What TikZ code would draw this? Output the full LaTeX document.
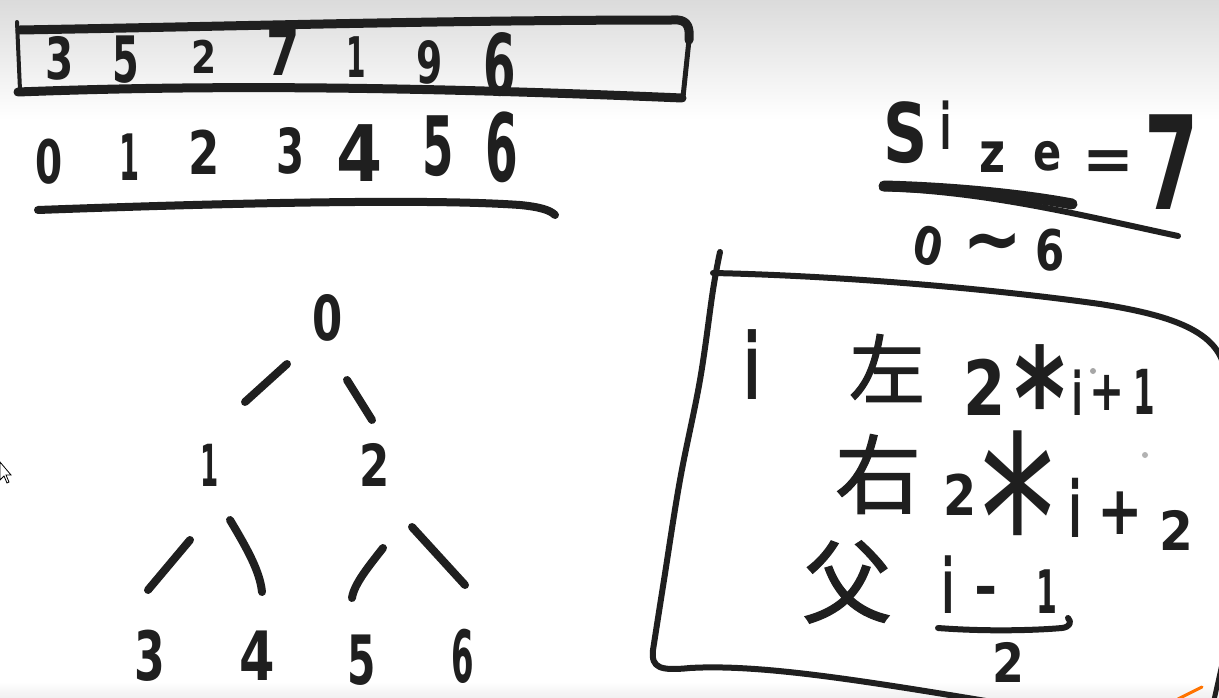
\documentclass[tikz,border=0pt]{standalone}
\usepackage{fontspec}
\setmainfont{DejaVu Sans}
\newfontfamily\cjkfont[FakeBold=1.5]{Noto Sans CJK SC}
\usetikzlibrary{calc}
\begin{document}
\begin{tikzpicture}[x=1pt,y=-1pt,
  ink/.style={line width=#1, line cap=round, line join=round, draw=black!88},
  ink/.default=8pt,
  hw/.style={inner sep=0pt, text=black!88, font=\bfseries\fontsize{#1}{#1}\selectfont},
  hr/.style={inner sep=0pt, text=black!88, font=\fontsize{#1}{#1}\selectfont},
  hz/.style={inner sep=0pt, text=black!88, font=\cjkfont\fontsize{#1}{#1}\selectfont},
  edge/.style={ink=8pt}]
\useasboundingbox (0,0) rectangle (1219,698);
\fill[white] (0,0) rectangle (1219,698);
\shade[top color=black!14, bottom color=white] (0,0) rectangle (1219,120);
\shade[top color=white, bottom color=black!6] (0,682) rectangle (1219,698);
\clip (0,0) rectangle (1219,698);

% ---------- array box ----------
\draw[ink=4pt] (17,22) -- (20,90);
\draw[ink=9pt] (20,30) .. controls (250,26) and (450,20) .. (678,20) .. controls (688,21) and (690,28) .. (689,40);
\draw[ink=5pt] (689,40) -- (683,97);
\draw[ink=9pt] (18,92) .. controls (200,85) and (400,86) .. (682,98);

\node[hw=58, xscale=.7] (a0) at (60,58) {3};
\node[hw=64, xscale=.6] (a1) at (126,60) {5};
\node[hw=45, xscale=.8] (a2) at (204,57) {2};
\node[hw=64, xscale=.75] (a3) at (283,52) {7};
\node[hw=56, xscale=.5] (a4) at (356,57) {1};
\node[hw=58, xscale=.65] (a5) at (430,62) {9};
\node[hw=85, xscale=.55] (a6) at (500,65) {6};

% ---------- index row ----------
\node[hw=60, xscale=.65] (i0) at (49,162) {0};
\node[hw=64, xscale=.45] (i1) at (130,157) {1};
\node[hw=60, xscale=.75] (i2) at (204,152) {2};
\node[hw=62, xscale=.65] (i3) at (291,151) {3};
\node[hw=78, xscale=.85] (i4) at (360,153) {4};
\node[hw=82, xscale=.55] (i5) at (438,146) {5};
\node[hw=94, xscale=.5] (i6) at (502,147) {6};
\draw[ink=8pt] (38,210) .. controls (200,204) and (420,198) .. (520,205) .. controls (540,207) and (550,210) .. (555,215);

% ---------- tree ----------
\node[hw=62, xscale=.7] (n0) at (328,318) {0};
\node[hw=58, xscale=.45] (n1) at (210,465) {1};
\node[hw=58, xscale=.75] (n2) at (375,465) {2};
\node[hw=68, xscale=.65] (n3) at (150,656) {3};
\node[hw=68, xscale=.75] (n4) at (257,656) {4};
\node[hw=68, xscale=.6] (n5) at (362,660) {5};
\node[hw=72, xscale=.45] (n6) at (463,656) {6};

\draw[edge] (n0) ++(-41,46) -- ++(-42,38);
\draw[edge] (n0) ++(19,62) -- ++(25,40);
\draw[edge] (n1) ++(-20,75) -- ++(-42,50);
\draw[edge] (n1) ++(20,55) .. controls +(18,30) and +(-2,-20) .. ++(32,72);
\draw[edge] (n2) ++(8,83) .. controls +(-14,18) and +(2,-14) .. ++(-31,50);
\draw[edge] (n2) ++(37,62) -- ++(53,58);

% ---------- size = 7 ----------
\node[hw=82, xscale=.75] (sS) at (906,133) {S};
\node[hw=64, xscale=.5] (si) at (946,125) {i};
\node[hw=56, xscale=.8] (sz) at (993,157) {z};
\node[hw=52, xscale=.8] (se) at (1048,156) {e};
\node[hw=62] (seq) at (1108,166) {=};
\node[hw=130, xscale=.6] (s7) at (1172,162) {7};
\draw[ink=6pt] (882,188) .. controls (990,192) and (1080,215) .. (1178,236);
\draw[ink=11pt] (884,186) .. controls (960,188) and (1030,196) .. (1072,204);
\node[hw=52, xscale=.8, rotate=-15] (r0) at (928,246) {0};
\node[hw=80, xscale=.9] (rt) at (993,250) {\textasciitilde};
\node[hw=56, xscale=.75] (r6) at (1050,250) {6};

% ---------- formula box ----------
\draw[ink=6pt] plot[smooth, tension=.6] coordinates {(720,252) (713,290) (700,380) (680,480) (664,580) (653,650)}
  .. controls (651,668) and (660,671) .. (690,668)
  .. controls (760,664) and (860,680) .. (1010,705);
\draw[ink=6pt] (713,273) .. controls (850,276) and (1000,290) .. (1100,304)
  .. controls (1170,315) and (1210,330) .. (1222,360);
\draw[ink=5pt] (1224,655) -- (1214,700);
\draw[line width=3pt, line cap=round, orange!90!red] (1178,699) -- (1202,687);

\node[hw=92, xscale=.5] (fi) at (752,365) {i};
\node[hz=76] (fl) at (887,368) {左};
\node[hw=76, xscale=.8] (l2) at (985,387) {2};
\node[hw=140, xscale=.7, anchor=north] (lm) at (1040,344) {*};
\node[hw=60, xscale=.5] (li) at (1078,393) {i};
\node[hw=56, xscale=.75] (lp) at (1107,393) {+};
\node[hw=62, xscale=.5] (l1) at (1144,392) {1};

\node[hz=86] (fr) at (878,474) {右};
\node[hw=56, xscale=.85] (q2) at (960,495) {2};
\node[hr=230, xscale=.65, anchor=north] (qm) at (1018,431) {*};
\node[hw=78, xscale=.45] (qi) at (1076,508) {i};
\node[hw=68, xscale=.8] (qp) at (1120,513) {+};
\node[hw=54, xscale=.9] (q2b) at (1176,530) {2};

\node[hz=90] (ff) at (847,582) {父};
\node[hw=76, xscale=.45] (pi) at (948,585) {i};
\node[hw=56] (pm) at (986,596) {-};
\node[hw=60, xscale=.5] (p1) at (1047,592) {1};
\draw[ink=6pt] (938,628) .. controls (990,632) and (1040,630) .. (1062,628) .. controls (1070,627) and (1072,622) .. (1068,618);
\node[hw=54, xscale=.85] (p2) at (1008,662) {2};

\fill[black!35] (1093,371) circle (3);
\fill[black!30] (1145,455) circle (3);

% cursor
\draw[fill=white, line width=.8pt] (0,462) -- (0,480) -- (4,476) -- (7,483) -- (9,482) -- (6,475) -- (11,475) -- cycle;
\end{tikzpicture}
\end{document}
